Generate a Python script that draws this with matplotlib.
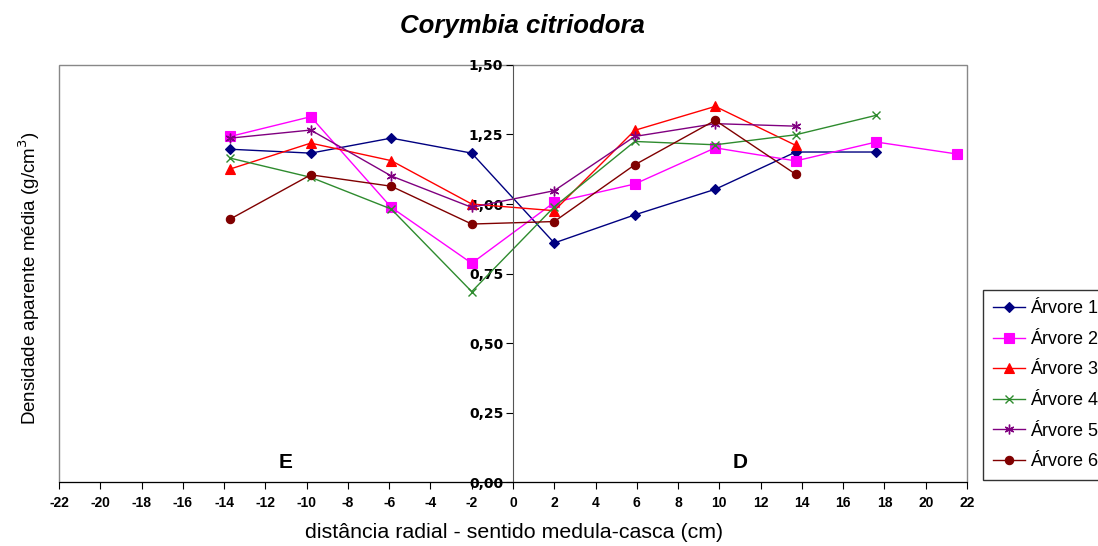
import matplotlib
matplotlib.use("Agg")
import matplotlib.pyplot as plt
from matplotlib.patches import Rectangle
from matplotlib.ticker import FuncFormatter

plt.rcParams['font.family'] = ['Liberation Sans', 'DejaVu Sans']
plt.rcParams['axes.unicode_minus'] = False

# radial positions (cm), E side negative, D side positive
x_left = [-13.7, -9.8, -5.9, -2.0]
x_right = [2.0, 5.9, 9.8, 13.7, 17.6, 21.5]

arvore1 = [1.197, 1.183, 1.237, 1.183, 0.860, 0.961, 1.053, 1.187, 1.187]
arvore2 = [1.243, 1.314, 0.988, 0.787, 1.006, 1.072, 1.202, 1.155, 1.223, 1.180]
arvore3 = [1.126, 1.219, 1.156, 1.000, 0.976, 1.265, 1.351, 1.211]
arvore4 = [1.165, 1.096, 0.982, 0.685, 0.990, 1.225, 1.213, 1.249, 1.319]
arvore5 = [1.237, 1.266, 1.101, 0.988, 1.048, 1.243, 1.289, 1.280]
arvore6 = [0.946, 1.105, 1.064, 0.928, 0.937, 1.141, 1.301, 1.107]

labels = ["Árvore 1", "Árvore 2", "Árvore 3", "Árvore 4", "Árvore 5", "Árvore 6"]
series = [arvore1, arvore2, arvore3, arvore4, arvore5, arvore6]
colors = ["#000080", "#FF00FF", "#FF0000", "#2E8B2E", "#800080", "#800000"]
markers = ["D", "s", "^", "x", (6, 2, 0), "o"]
msizes = [5, 6.5, 7, 6, 7, 6]

fig = plt.figure(figsize=(10.98, 5.46), dpi=100)
ax = fig.add_axes([0.0537, 0.117, 0.827, 0.764])

xs_all = x_left + x_right
for vals, lab, c, m, ms in zip(series, labels, colors, markers, msizes):
    xs = xs_all[:len(vals)]
    ax.plot(xs, vals, color=c, marker=m, markersize=ms, linewidth=1,
            markeredgewidth=1 if m in ("x",) or isinstance(m, tuple) else 0.8,
            label=lab)

ax.set_xlim(-22, 22)
ax.set_ylim(0, 1.5)
ax.set_xticks(range(-22, 23, 2))
ax.set_yticks([0, 0.25, 0.5, 0.75, 1.0, 1.25, 1.5])
ax.yaxis.set_major_formatter(FuncFormatter(lambda v, p: f"{v:.2f}".replace(".", ",")))

for s in ["top", "right"]:
    ax.spines[s].set_visible(False)
ax.spines["left"].set_position(("data", 0))
ax.spines["left"].set_color("#555555")
ax.spines["bottom"].set_color("black")
ax.add_patch(Rectangle((0, 0), 1, 1, transform=ax.transAxes, fill=False,
                       edgecolor="#888888", linewidth=1, clip_on=False, zorder=0))

ax.tick_params(axis="x", direction="out", length=5, pad=5)
ax.tick_params(axis="y", direction="out", length=5, pad=2)
for t in ax.get_xticklabels():
    t.set_family(["Liberation Sans Narrow", "Liberation Sans"])
    t.set_fontweight("bold")
    t.set_fontsize(10)
for t in ax.get_yticklabels():
    t.set_family(["DejaVu Sans"])
    t.set_fontweight("bold")
    t.set_fontsize(10)

ax.text(-11, 0.07, "E", fontsize=15, fontweight="bold", ha="center", va="center")
ax.text(11, 0.07, "D", fontsize=15, fontweight="bold", ha="center", va="center")

fig.text(0.476, 0.953, "Corymbia citriodora", fontsize=18.5, fontweight="bold",
         fontstyle="italic", ha="center", va="center")
fig.text(0.468, 0.025, "distância radial - sentido medula-casca (cm)", fontsize=15.4,
         ha="center", va="center")
fig.text(0.027, 0.49, "Densidade aparente média (g/cm$^3$)", fontsize=13.5,
         rotation=90, ha="center", va="center")

leg = ax.legend(loc="lower left", bbox_to_anchor=(0.8953, 0.1209),
                bbox_transform=fig.transFigure, fontsize=13, frameon=True,
                fancybox=False, edgecolor="black", labelspacing=0.75,
                handlelength=1.8, handletextpad=0.25, borderpad=0.55,
                borderaxespad=0)
leg.get_frame().set_linewidth(1)

fig.savefig("out.png", dpi=100)
